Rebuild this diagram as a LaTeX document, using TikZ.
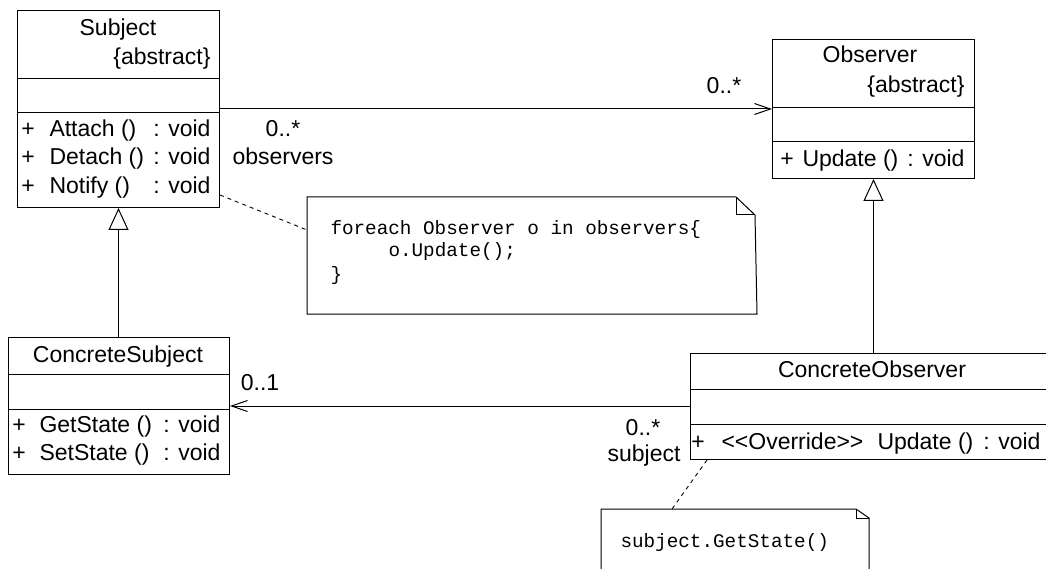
\documentclass[tikz,border=0pt]{standalone}
\usepackage{fontspec}
\setmainfont{Liberation Sans}
\newfontfamily\codefont{Liberation Mono}
\usetikzlibrary{arrows.meta}
\begin{document}
\begin{tikzpicture}[x=1pt,y=-1pt,line width=1pt,
  lbl/.style={inner sep=0pt,font=\fontsize{23}{27}\selectfont},
  code/.style={inner sep=0pt,font=\codefont\fontsize{19.3}{23}\selectfont},
  cls/.style={draw,inner sep=0pt,anchor=north west},
  box/.style={inner sep=0pt,anchor=north west},
  assoc/.style={-{Straight Barb[length=16pt,width=11pt,line width=1pt]}},
  inherit/.style={-{Triangle[open,length=22pt,width=20pt,line width=1pt]}},
  anchorline/.style={dash pattern=on 4pt off 4pt,line width=0.9pt}]
\useasboundingbox (0,0) rectangle (1046,569);
\fill[white] (0,0) rectangle (1046,569);

% ---- Subject ----
\node[cls,minimum width=202pt,minimum height=197pt] (subject) at (17,10) {};
\draw (17,79) -- (219,79);
\draw (17,113) -- (219,113);
\node[lbl,anchor=base] (subjt) at (118,36) {Subject};
\node[lbl,anchor=base east] (subja) at (211,65) {\{abstract\}};
\node[lbl,anchor=base] (s1p) at (28,137) {+};
\node[lbl,anchor=base west] (s1n) at (49,137) {Attach ()};
\node[lbl,anchor=base east] (s1t) at (211,137) {: void};
\node[lbl,anchor=base] (s2p) at (28,165) {+};
\node[lbl,anchor=base west] (s2n) at (49,165) {Detach ()};
\node[lbl,anchor=base east] (s2t) at (211,165) {: void};
\node[lbl,anchor=base] (s3p) at (28,194) {+};
\node[lbl,anchor=base west] (s3n) at (49,194) {Notify ()};
\node[lbl,anchor=base east] (s3t) at (211,194) {: void};

% ---- Observer ----
\node[cls,minimum width=202pt,minimum height=139pt] (observer) at (772,39) {};
\draw (772,108) -- (974,108);
\draw (772,142) -- (974,142);
\node[lbl,anchor=base] (obst) at (870,63) {Observer};
\node[lbl,anchor=base east] (obsa) at (965,93) {\{abstract\}};
\node[lbl,anchor=base] (o1p) at (787,167) {+};
\node[lbl,anchor=base west] (o1n) at (802,167) {Update ()};
\node[lbl,anchor=base east] (o1t) at (965,167) {: void};

% ---- ConcreteSubject ----
\node[cls,minimum width=221pt,minimum height=137pt] (csubject) at (8,337) {};
\draw (8,374) -- (229,374);
\draw (8,409) -- (229,409);
\node[lbl,anchor=base] (cst) at (118,362) {ConcreteSubject};
\node[lbl,anchor=base] (c1p) at (19,432) {+};
\node[lbl,anchor=base west] (c1n) at (39,432) {GetState ()};
\node[lbl,anchor=base east] (c1t) at (221,432) {: void};
\node[lbl,anchor=base] (c2p) at (19,460) {+};
\node[lbl,anchor=base west] (c2n) at (39,460) {SetState ()};
\node[lbl,anchor=base east] (c2t) at (221,460) {: void};

% ---- ConcreteObserver ----
\node[cls,minimum width=370pt,minimum height=106pt] (cobserver) at (690,353) {};
\draw (690,389) -- (1060,389);
\draw (690,424) -- (1060,424);
\node[lbl,anchor=base] (cot) at (872,377) {ConcreteObserver};
\node[lbl,anchor=base] (co1p) at (698,449) {+};
\node[lbl,anchor=base west] (co1s) at (721,449) {<\kern0pt<Override>\kern0pt>};
\node[lbl,anchor=base west] (co1n) at (877,449) {Update ()};
\node[lbl,anchor=base east] (co1t) at (1041,449) {: void};

% ---- Notes ----
\node[box,minimum width=449pt,minimum height=116pt] (note1) at (307,197) {};
\draw (note1.north west) -- (736,197) -- (755,215) -- (note1.south east)
      -- (note1.south west) -- cycle;
\draw (736,197) -- (736,215) -- (755,215);
\node[code,anchor=base west] (n1a) at (330,235) {foreach Observer o in observers\{};
\node[code,anchor=base west] (n1b) at (388,257) {o.Update();};
\node[code,anchor=base west] (n1c) at (330,280) {\}};

\node[box,minimum width=268pt,minimum height=80pt] (note2) at (601,509) {};
\draw (note2.south west) -- (note2.north west) -- (856,509) -- (869,518) -- (869,589);
\draw (856,509) -- (856,518) -- (869,518);
\node[code,anchor=base west] (n2a) at (620,547) {subject.GetState()};

% ---- Connectors ----
\draw[assoc] (subject.east |- 0,109) -- (observer.west |- 0,109);
\node[lbl,anchor=base] (m1) at (283,137) {0..*};
\node[lbl,anchor=base] (r1) at (283,165) {observers};
\node[lbl,anchor=base] (m2) at (724,94) {0..*};

\draw[assoc] (cobserver.west |- 0,406) -- (csubject.east |- 0,406);
\node[lbl,anchor=base] (m3) at (260,390) {0..1};
\node[lbl,anchor=base] (m4) at (643,435) {0..*};
\node[lbl,anchor=base] (r2) at (644,461) {subject};

\draw[inherit] (csubject.north -| subject.south) -- (subject.south);
\draw[inherit] (cobserver.north -| observer.south) -- (observer.south);

\draw[anchorline] (subject.east |- 0,195) -- (note1.west |- 0,230);
\draw[anchorline] (cobserver.south -| 707,0) -- (note2.north -| 672,0);
\end{tikzpicture}
\end{document}
